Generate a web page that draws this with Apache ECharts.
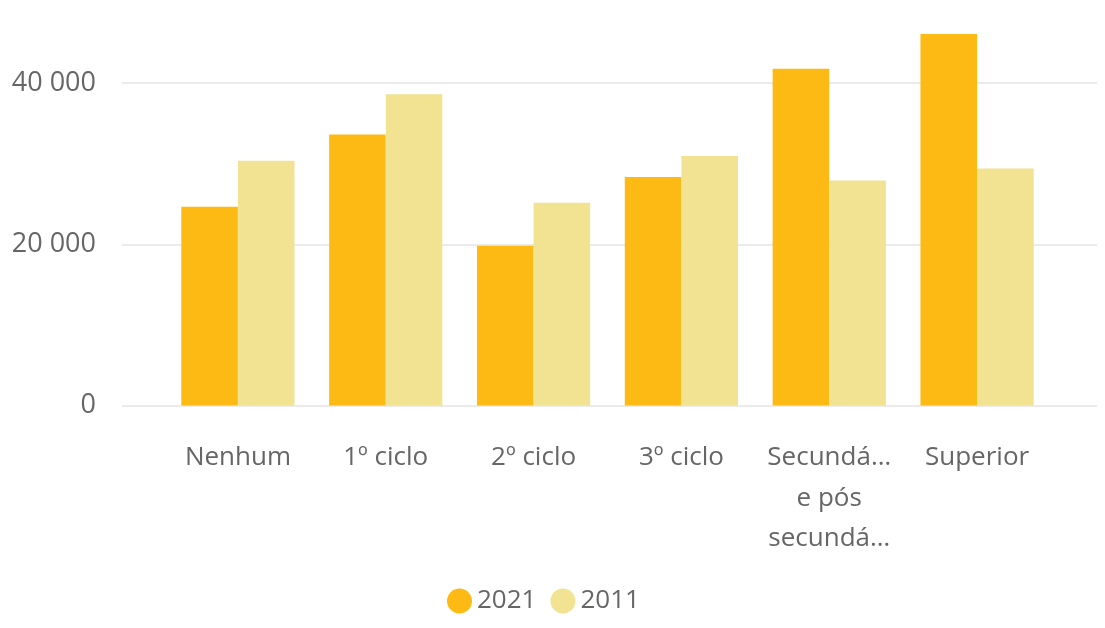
<!DOCTYPE html>
<html>
<head>
<meta charset="utf-8">
<script src="https://cdn.jsdelivr.net/npm/echarts@6/dist/echarts.min.js"></script>
<style>
html,body{margin:0;padding:0;background:#fff;}
#chart{width:1105px;height:628px;}
</style>
</head>
<body>
<div id="chart"></div>
<script>
const categories = ["Nenhum", "1º ciclo", "2º ciclo", "3º ciclo", "Secundário e pós secundário", "Superior"];
const categoryLabels = ["Nenhum", "1º ciclo", "2º ciclo", "3º ciclo", "Secundá…\ne pós\nsecundá…", "Superior"];
const seriesNames = ["2021", "2011"];
const values2021 = [24650, 33600, 19800, 28350, 41780, 46070];
const values2011 = [30350, 38600, 25150, 30950, 27900, 29400];
const yTicks = [0, 20000, 40000];

const FONT = "'Open Sans', 'Noto Sans', sans-serif";
const TXT = '#666666';
const C2021 = '#FEBA14';
const C2011 = '#F1E391';
const gridTop = 18.5, gridBottom = 222.5;

const chart = echarts.init(document.getElementById('chart'), null, {renderer: 'canvas'});
chart.setOption({
  animation: false,
  backgroundColor: '#ffffff',
  textStyle: {fontFamily: FONT},
  legend: {
    bottom: 9,
    left: 442,
    icon: 'circle',
    itemWidth: 25,
    itemHeight: 25,
    itemGap: 14,
    data: seriesNames,
    textStyle: {fontFamily: FONT, fontSize: 26, color: TXT, padding: [0, 0, 0, 0]}
  },
  grid: [
    {left: 122, right: 8, top: gridTop, bottom: gridBottom},
    {left: 164, right: 54, top: gridTop, bottom: gridBottom}
  ],
  xAxis: [
    {gridIndex: 0, type: 'category', data: categories, show: true,
     axisLine: {show: false}, axisTick: {show: false}, axisLabel: {show: false}},
    {gridIndex: 1, type: 'category', data: categories,
     axisLine: {show: false}, axisTick: {show: false},
     axisLabel: {
       interval: 0, margin: 32, fontFamily: FONT, fontSize: 26, color: TXT, lineHeight: 40.5,
       formatter: (v, i) => categoryLabels[i]
     }}
  ],
  yAxis: [
    {gridIndex: 0, type: 'value', min: 0, max: 48000, interval: 20000,
     axisLine: {show: false}, axisTick: {show: false},
     splitLine: {show: true, showMaxLine: false, lineStyle: {color: '#EBEBEB', width: 2}},
     axisLabel: {margin: 26, fontFamily: FONT, fontSize: 27, color: TXT, showMaxLabel: false,
       formatter: v => yTicks.indexOf(v) >= 0 ? String(v).replace(/\B(?=(\d{3})+(?!\d))/g, ' ') : ''}},
    {gridIndex: 1, type: 'value', min: 0, max: 48000, interval: 20000, show: false,
     splitLine: {show: false}}
  ],
  series: [
    {name: seriesNames[0], type: 'bar', xAxisIndex: 1, yAxisIndex: 1, data: values2021,
     itemStyle: {color: C2021}, barGap: '0%', barCategoryGap: '23.4%'},
    {name: seriesNames[1], type: 'bar', xAxisIndex: 1, yAxisIndex: 1, data: values2011,
     itemStyle: {color: C2011}, barGap: '0%', barCategoryGap: '23.4%'}
  ]
});
</script>
</body>
</html>
